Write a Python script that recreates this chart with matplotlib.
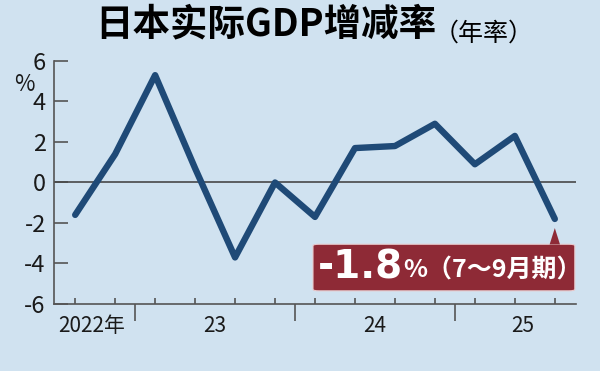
import numpy as np
import matplotlib.pyplot as plt
from matplotlib.patches import FancyBboxPatch, Polygon

plt.rcParams['axes.unicode_minus'] = False

# 季度实际GDP增减率（年率, %）: 2022年7-9月期 ~ 2025年7-9月期
quarters = list(range(13))
growth = [-1.6, 1.4, 5.3, 0.7, -3.7, 0.0, -1.7, 1.7, 1.8, 2.9, 0.9, 2.3, -1.8]
year_labels = ['2022年', '23', '24', '25']
year_centers = [0.4, 3.5, 7.5, 11.2]
year_bounds = [1.5, 5.5, 9.5]
y_ticks = [-6, -4, -2, 0, 2, 4, 6]

bg = '#d0e2f0'
line_c = '#1f4a77'
axis_c = '#555555'
box_c = '#8e2a36'
num_font = ['Liberation Sans Narrow', 'Noto Sans CJK JP', 'DejaVu Sans']

fig = plt.figure(figsize=(6, 3.71), dpi=100, facecolor=bg)
ax = fig.add_axes([0.09, 0.1806, 0.87, 0.655], facecolor=bg)

ax.plot(quarters, growth, color=line_c, lw=4.6, solid_joinstyle='round',
        solid_capstyle='round', zorder=3)
ax.axhline(0, color='#484848', lw=1.2, zorder=2)

ax.set_ylim(-6, 6)
ax.set_xlim(-0.53, 12.53)
ax.set_yticks(y_ticks)
ax.set_yticklabels([str(v) for v in y_ticks], family=num_font, fontsize=17,
                   color='#1a1a1a')
ax.tick_params(axis='y', direction='in', length=10, width=1.2, color=axis_c, pad=6)

ax.set_xticks(year_bounds)
ax.set_xticklabels([])
ax.set_xticks(quarters, minor=True)
ax.tick_params(axis='x', which='major', direction='out', length=12, width=1.2,
               color=axis_c)
ax.tick_params(axis='x', which='minor', direction='in', length=4, width=1.2,
               color=axis_c)
for lab, xc in zip(year_labels, year_centers):
    ax.text(xc, -0.09, lab, transform=ax.get_xaxis_transform(), ha='center',
            va='center', fontsize=15, family=num_font, color='#1a1a1a')

for s in ['top', 'right']:
    ax.spines[s].set_visible(False)
for s in ['left', 'bottom']:
    ax.spines[s].set_color(axis_c)
    ax.spines[s].set_linewidth(1.2)

ax.text(-0.056, 0.905, '%', transform=ax.transAxes, ha='center', va='center',
        fontsize=16, family=num_font, color='#1a1a1a')

# 最新値の吹き出し
last_x, last_y = quarters[-1], growth[-1]
box = FancyBboxPatch((5.95, -5.35), 6.55, 2.3,
                     boxstyle='round,pad=0,rounding_size=0.15',
                     fc=box_c, ec='#e9c9cc', lw=0.8, zorder=4,
                     mutation_aspect=1 / 2)
ax.add_patch(box)
ax.add_patch(Polygon([[last_x - 0.13, -3.06], [last_x + 0.13, -3.06],
                      [last_x, last_y - 0.45]], closed=True, fc=box_c,
                     ec='none', zorder=4))
ax.text(6.08, -4.22, f'{last_y:.1f}', ha='left', va='center', fontsize=28,
        fontweight='bold', family='DejaVu Sans', color='white', zorder=5)
ax.text(8.2, -4.35, '%（7～9月期）', ha='left', va='center', fontsize=18,
        fontweight='bold', family=['Noto Sans CJK JP', 'DejaVu Sans'],
        color='white', zorder=5)

fig.text(0.158, 0.935, '日本实际GDP增减率', ha='left', va='center', fontsize=27,
         fontweight='heavy', family=['Noto Sans CJK SC', 'DejaVu Sans'],
         color='black')
fig.text(0.722, 0.91, '（年率）', ha='left', va='center', fontsize=18,
         family=['Noto Sans CJK SC', 'DejaVu Sans'], color='black')

fig.savefig('out.png', dpi=100, facecolor=bg)
